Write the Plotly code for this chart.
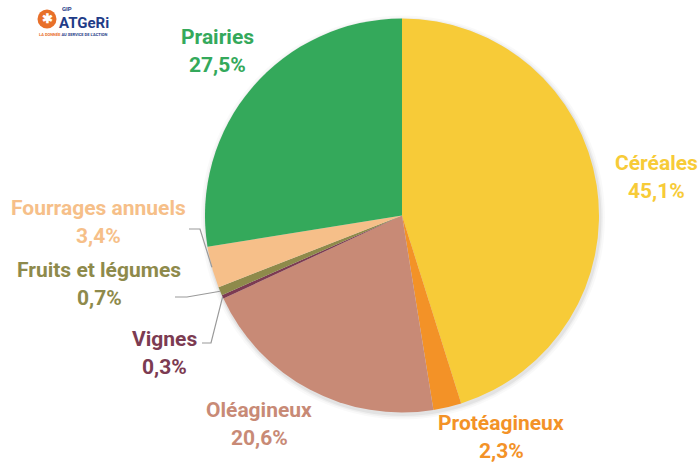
import math
import plotly.graph_objects as go

# data
categories = ["Céréales", "Protéagineux", "Oléagineux", "Vignes",
              "Fruits et légumes", "Fourrages annuels", "Prairies"]
shares = [45.1, 2.3, 20.6, 0.3, 0.7, 3.4, 27.5]
share_labels = ["45,1%", "2,3%", "20,6%", "0,3%", "0,7%", "3,4%", "27,5%"]
colors = ["#F7CB38", "#F39227", "#C88A76", "#7C3B52", "#8E8A4B", "#F6BF89", "#34A95B"]

W, H = 699, 462
cx, cy, R = 402, 215.5, 197  # pie centre / radius in px


def px(x, y):
    return x / W, 1 - y / H


# label anchor (centre of the name line, px)
label_pos = {
    "Céréales": (656, 163),
    "Protéagineux": (501, 423),
    "Oléagineux": (259, 410),
    "Vignes": (164, 339),
    "Fruits et légumes": (99, 270),
    "Fourrages annuels": (98, 208),
    "Prairies": (217, 37),
}
# elbow of leader lines for the thin slices (px)
leaders = {
    "Vignes": [(202, 343), (211, 343)],
    "Fruits et légumes": [(175, 297), (187, 297)],
    "Fourrages annuels": [(189, 229), (200, 229)],
}

fig = go.Figure()
d0x, d0y = px(cx - R, cy + R)
d1x, d1y = px(cx + R, cy - R)
fig.add_trace(go.Pie(
    labels=categories,
    values=shares,
    sort=False,
    direction="clockwise",
    rotation=0,
    marker=dict(colors=colors, line=dict(width=0)),
    textinfo="none",
    hoverinfo="label+percent",
    showlegend=False,
    domain=dict(x=[d0x, d1x], y=[d0y, d1y]),
))

# soft shadow behind the pie
shapes = []
for k, a in [(5, 0.025), (3, 0.035), (1.5, 0.05)]:
    x0, y0 = px(cx - R - k + 1, cy - R - k + 2)
    x1, y1 = px(cx + R + k + 1, cy + R + k + 2)
    shapes.append(dict(type="circle", xref="paper", yref="paper", x0=x0, x1=x1, y0=y1, y1=y0,
                       fillcolor=f"rgba(0,0,0,{a})", line=dict(width=0), layer="below"))

# leader lines, ending at the middle of the slice edge
total = sum(shares)
cum = 0
for name, v in zip(categories, shares):
    mid = (cum + v / 2) / total * 2 * math.pi
    cum += v
    if name in leaders:
        ex, ey = cx + R * math.sin(mid), cy - R * math.cos(mid)
        pts = leaders[name] + [(ex, ey)]
        path = "M " + " L ".join(f"{px(x, y)[0]},{px(x, y)[1]}" for x, y in pts)
        shapes.append(dict(type="path", xref="paper", yref="paper", path=path,
                           line=dict(color="#9A9A9A", width=1.2)))

annotations = []
for name, lab, col in zip(categories, share_labels, colors):
    x, y = label_pos[name]
    for text, yy in [(name, y), (lab, y + 28)]:
        ax, ay = px(x, yy)
        annotations.append(dict(x=ax, y=ay, xref="paper", yref="paper", text=f"<b>{text}</b>",
                                showarrow=False, xanchor="center", yanchor="middle",
                                font=dict(family="Roboto", size=21, color=col)))

# logo
lx0, ly0 = px(37.5, 28.5)
lx1, ly1 = px(56.5, 9.5)
shapes.append(dict(type="circle", xref="paper", yref="paper",
                   x0=lx0, x1=lx1, y0=ly0, y1=ly1,
                   fillcolor="#E8702A", line=dict(width=0)))
for t, x, y, s, c in [("<b>✱</b>", 47, 19, 13, "white"), ("<b>GIP</b>", 67, 9, 6, "#1F3C88"),
                      ("<b>ATGeRi</b>", 84, 23, 15, "#1F3C88"),
                      ("<b>LA DONNÉE <span style='color:#1F3C88'>AU SERVICE DE L'ACTION</span></b>",
                       73, 34, 4, "#E8702A")]:
    ax, ay = px(x, y)
    annotations.append(dict(x=ax, y=ay, xref="paper", yref="paper", text=t, showarrow=False,
                            xanchor="center", yanchor="middle",
                            font=dict(family="Roboto", size=s, color=c)))

fig.update_layout(
    width=W, height=H,
    margin=dict(l=0, r=0, t=0, b=0),
    paper_bgcolor="white",
    plot_bgcolor="white",
    shapes=shapes,
    annotations=annotations,
)
# drop the default 8px body margin so the figure fills the window
fig.write_html("out.html", config={"displayModeBar": False},
               post_script="document.body.style.margin='0';")
